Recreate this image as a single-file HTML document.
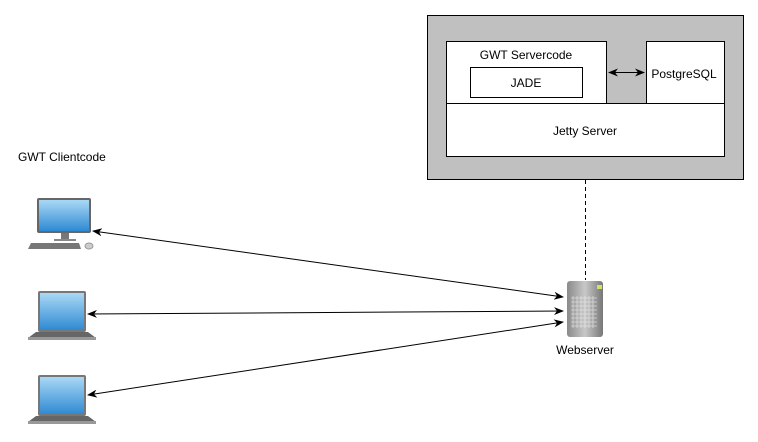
<!DOCTYPE html>
<html><head><style>
body{margin:0;background:#fff;width:758px;height:437px;overflow:hidden;font-family:"Liberation Sans",sans-serif}
</style></head><body>
<svg width="758" height="437" xmlns="http://www.w3.org/2000/svg" font-family="Liberation Sans, sans-serif" font-size="12">
<defs>
<marker id="a" markerWidth="10" markerHeight="8" refX="9" refY="4" orient="auto" markerUnits="userSpaceOnUse"><path d="M0,0 L10,4 L0,8 L3,4 Z" fill="#000"/></marker>
<marker id="b" markerWidth="10" markerHeight="8" refX="1" refY="4" orient="auto" markerUnits="userSpaceOnUse"><path d="M10,0 L0,4 L10,8 L7,4 Z" fill="#000"/></marker>
<linearGradient id="s" x1="0" y1="0" x2="0" y2="1"><stop offset="0" stop-color="#a9d8f5"/><stop offset="1" stop-color="#2f8ad3"/></linearGradient>
<linearGradient id="g" x1="0" y1="0" x2="1" y2="0"><stop offset="0" stop-color="#8a8a8a"/><stop offset="0.5" stop-color="#c8c8c8"/><stop offset="1" stop-color="#777"/></linearGradient>
</defs>
<rect x="427.5" y="15.5" width="316" height="164" fill="#c0c0c0" stroke="#000"/>
<rect x="446.5" y="41.5" width="160" height="62" fill="#fff" stroke="#000"/>
<rect x="470.5" y="67.5" width="112" height="30" fill="#fff" stroke="#000"/>
<rect x="646.5" y="41.5" width="78" height="62" fill="#fff" stroke="#000"/>
<rect x="446.5" y="103.5" width="278" height="53" fill="#fff" stroke="#000"/>
<text x="526" y="59" text-anchor="middle">GWT Servercode</text>
<text x="526" y="87" text-anchor="middle">JADE</text>
<text x="684" y="78" text-anchor="middle">PostgreSQL</text>
<text x="585" y="135" text-anchor="middle">Jetty Server</text>
<line x1="609" y1="72.5" x2="644" y2="72.5" stroke="#000" marker-start="url(#b)" marker-end="url(#a)"/>
<line x1="585.5" y1="180" x2="585.5" y2="280" stroke="#000" stroke-dasharray="4,3"/>
<text x="18" y="161">GWT Clientcode</text>
<text x="585" y="354" text-anchor="middle">Webserver</text>
<rect x="567" y="281" width="36" height="56" rx="3" fill="url(#g)"/>
<rect x="597" y="285" width="5" height="4" fill="#cde36a"/>
<g stroke="#eee" stroke-width="0.8" opacity="0.7">
<path d="M571 298h26M571 302h26M571 306h26M571 310h26M571 314h26M571 318h26M571 322h26M571 326h26"/>
<path d="M573 296v32M577 296v32M581 296v32M585 296v32M589 296v32M593 296v32"/>
</g>
<rect x="37" y="198" width="54" height="35" rx="2" fill="#666"/>
<rect x="39" y="200" width="50" height="31" fill="url(#s)"/>
<rect x="61" y="233" width="8" height="6" fill="#777"/>
<rect x="54" y="239" width="22" height="2" fill="#888"/>
<path d="M31 243h48l2 6h-53z" fill="#777"/>
<ellipse cx="89" cy="246" rx="4" ry="3" fill="#ccc" stroke="#999"/>
<g>
<rect x="38" y="291" width="48" height="41" rx="2" fill="#777"/>
<rect x="40" y="293" width="44" height="37" fill="url(#s)"/>
<path d="M36 332h52l8 6h-68z" fill="#666"/>
<rect x="28" y="337" width="68" height="3" fill="#999"/>
</g>
<g transform="translate(0,84)">
<rect x="38" y="291" width="48" height="41" rx="2" fill="#777"/>
<rect x="40" y="293" width="44" height="37" fill="url(#s)"/>
<path d="M36 332h52l8 6h-68z" fill="#666"/>
<rect x="28" y="337" width="68" height="3" fill="#999"/>
</g>
<line x1="93" y1="231" x2="563" y2="297" stroke="#000" marker-start="url(#b)" marker-end="url(#a)"/>
<line x1="88" y1="314" x2="563" y2="311" stroke="#000" marker-start="url(#b)" marker-end="url(#a)"/>
<line x1="88" y1="395" x2="563" y2="322" stroke="#000" marker-start="url(#b)" marker-end="url(#a)"/>
</svg>
</body></html>
